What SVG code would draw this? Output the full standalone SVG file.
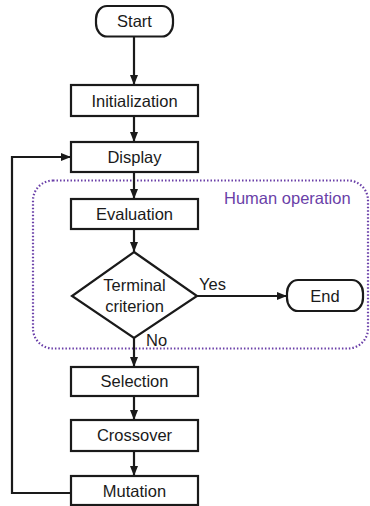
<svg xmlns="http://www.w3.org/2000/svg" width="370" height="506" viewBox="0 0 370 506">
<style>
.box{fill:#fff;stroke:#1a1a1a;stroke-width:2.2}
.t{font-family:"Liberation Sans",Arial,sans-serif;font-size:16.5px;fill:#1a1a1a;text-anchor:middle}
.l{font-family:"Liberation Sans",Arial,sans-serif;font-size:16.5px;fill:#1a1a1a}
.c{fill:none;stroke:#1a1a1a;stroke-width:2.2}
</style>
<defs>
<marker id="ah" markerWidth="10" markerHeight="8" refX="10" refY="4" orient="auto" markerUnits="userSpaceOnUse">
<path d="M0,0 L10,4 L0,8 Z" fill="#1a1a1a"/>
</marker>
</defs>
<rect width="370" height="506" fill="#fff"/>
<g id="human-operation">
<rect x="33" y="180.5" width="335" height="168" rx="20" ry="20" fill="none" stroke="#6a3fa8" stroke-width="2.2" stroke-dasharray="1.5 2"/>
<text x="224" y="204" class="l" style="fill:#6a3fa8">Human operation</text>
</g>
<g id="connectors">
<line x1="134" y1="37" x2="134" y2="85" class="c" marker-end="url(#ah)"/>
<line x1="134" y1="116" x2="134" y2="142" class="c" marker-end="url(#ah)"/>
<line x1="134" y1="172" x2="134" y2="199" class="c" marker-end="url(#ah)"/>
<line x1="134" y1="229" x2="134" y2="252" class="c" marker-end="url(#ah)"/>
<line x1="197" y1="296" x2="287" y2="296" class="c" marker-end="url(#ah)"/>
<line x1="134" y1="338" x2="134" y2="367" class="c" marker-end="url(#ah)"/>
<line x1="134" y1="396" x2="134" y2="420" class="c" marker-end="url(#ah)"/>
<line x1="134" y1="451" x2="134" y2="476" class="c" marker-end="url(#ah)"/>
<polyline points="71,493 12,493 12,157 71,157" class="c" marker-end="url(#ah)"/>
<text x="199" y="290" class="l">Yes</text>
<text x="146" y="346" class="l">No</text>
</g>
<g id="start">
<rect x="96" y="6" width="77" height="30.5" rx="11" ry="13" class="box"/>
<text x="134.5" y="27" class="t">Start</text>
</g>
<g id="initialization">
<rect x="71" y="85" width="127" height="31" class="box"/>
<text x="134.5" y="107" class="t">Initialization</text>
</g>
<g id="display">
<rect x="71" y="142" width="127" height="30" class="box"/>
<text x="134.5" y="163" class="t">Display</text>
</g>
<g id="evaluation">
<rect x="71" y="199" width="127" height="30" class="box"/>
<text x="134.5" y="220" class="t">Evaluation</text>
</g>
<g id="terminal-criterion">
<polygon points="134,252 197,296 134,338 72,296" class="box"/>
<text x="134.5" y="291" class="t">Terminal</text>
<text x="134.5" y="312" class="t">criterion</text>
</g>
<g id="end">
<rect x="287" y="280" width="76" height="31" rx="11" ry="13" class="box"/>
<text x="325" y="302" class="t">End</text>
</g>
<g id="selection">
<rect x="71" y="367" width="127" height="29" class="box"/>
<text x="134.5" y="387" class="t">Selection</text>
</g>
<g id="crossover">
<rect x="71" y="420" width="127" height="31" class="box"/>
<text x="134.5" y="441" class="t">Crossover</text>
</g>
<g id="mutation">
<rect x="71" y="476" width="127" height="29" class="box"/>
<text x="134.5" y="497" class="t">Mutation</text>
</g>
</svg>
